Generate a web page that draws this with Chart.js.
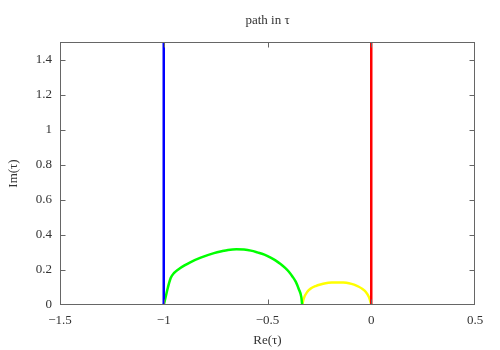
<!DOCTYPE html>
<html>
<head>
<meta charset="utf-8">
<script src="https://cdn.jsdelivr.net/npm/chart.js@4"></script>
<style>
  html, body { margin: 0; padding: 0; background: #fff; }
  #wrap { width: 500px; height: 350px; }
</style>
</head>
<body>
<div id="wrap"><canvas id="pathChart"></canvas></div>
<script>
// Data
const chartTitle = 'path in \u03c4';
const xTicks = [-1.5, -1, -0.5, 0, 0.5];
const yTicks = [0, 0.2, 0.4, 0.6, 0.8, 1, 1.2, 1.4];

const blueX = [-1, -1];
const blueY = [0, 1.5];
const redX = [0, 0];
const redY = [0, 1.5];

const greenX = [-1, -0.99, -0.98, -0.966, -0.95, -0.93, -0.9, -0.87, -0.822, -0.758, -0.72,
                -0.69, -0.65, -0.613, -0.58, -0.549, -0.515, -0.485, -0.46, -0.437, -0.415,
                -0.397, -0.38, -0.364, -0.349, -0.337, -0.333];
const greenY = [0, 0.05, 0.1, 0.155, 0.183, 0.203, 0.226, 0.245, 0.27, 0.296, 0.307,
                0.314, 0.318, 0.316, 0.31, 0.3, 0.287, 0.27, 0.253, 0.234, 0.212,
                0.19, 0.163, 0.133, 0.09, 0.045, 0];

const yellowX = [-0.333, -0.325, -0.308, -0.29, -0.268, -0.245, -0.22, -0.19, -0.164, -0.135,
                 -0.108, -0.083, -0.06, -0.042, -0.027, -0.011, 0];
const yellowY = [0, 0.038, 0.076, 0.095, 0.108, 0.117, 0.124, 0.128, 0.129, 0.128,
                 0.124, 0.116, 0.104, 0.091, 0.076, 0.045, 0.004];

function pts(xs, ys) {
    return xs.map((x, i) => ({ x: x, y: ys[i] }));
}

function fmt(v) {
    return String(v).replace('-', '\u2212');
}

const serif = '"Liberation Serif", "DejaVu Serif", serif';
const textColor = '#333';
const frameColor = '#666';

// frame, inward ticks on all four sides and the title over the plot box
const framePlugin = {
    id: 'frame',
    afterDatasetsDraw(chart) {
        const ctx = chart.ctx;
        const a = chart.chartArea;
        const xs = chart.scales.x;
        const ys = chart.scales.y;
        const L = Math.round(a.left) + 0.5, R = Math.round(a.right) - 0.5;
        const T = Math.round(a.top) + 0.5, B = Math.round(a.bottom) - 0.5;
        const len = 5;
        const clamp = (v, lo, hi) => Math.min(Math.max(v, lo), hi);
        ctx.save();
        ctx.strokeStyle = frameColor;
        ctx.lineWidth = 1;
        ctx.beginPath();
        xTicks.forEach(v => {
            const px = clamp(Math.round(xs.getPixelForValue(v)) + 0.5, L, R);
            ctx.moveTo(px, B); ctx.lineTo(px, B - len);
            ctx.moveTo(px, T); ctx.lineTo(px, T + len);
        });
        yTicks.forEach(v => {
            const py = clamp(Math.round(ys.getPixelForValue(v)) + 0.5, T, B);
            ctx.moveTo(L, py); ctx.lineTo(L + len, py);
            ctx.moveTo(R, py); ctx.lineTo(R - len, py);
        });
        ctx.stroke();
        ctx.strokeRect(L, T, R - L, B - T);

        ctx.fillStyle = textColor;
        ctx.font = '13px ' + serif;
        ctx.textAlign = 'center';
        ctx.textBaseline = 'alphabetic';
        ctx.fillText(chartTitle, (a.left + a.right) / 2, 24);
        ctx.restore();
    }
};

const line = (data, color) => ({
    data: data,
    showLine: true,
    borderColor: color,
    backgroundColor: color,
    borderWidth: 2.5,
    pointRadius: 0,
    cubicInterpolationMode: 'monotone',
    fill: false
});

new Chart(document.getElementById('pathChart'), {
    type: 'scatter',
    data: {
        datasets: [
            line(pts(blueX, blueY), '#0000ff'),
            line(pts(redX, redY), '#ff0000'),
            line(pts(greenX, greenY), '#00ff00'),
            line(pts(yellowX, yellowY), '#ffff00')
        ]
    },
    options: {
        responsive: true,
        maintainAspectRatio: false,
        animation: false,
        layout: { padding: { left: 0, right: 25, top: 42, bottom: 0 } },
        plugins: {
            legend: { display: false },
            tooltip: { enabled: false },
            title: { display: false }
        },
        scales: {
            x: {
                type: 'linear',
                min: -1.5,
                max: 0.5,
                afterBuildTicks: s => { s.ticks = xTicks.map(v => ({ value: v })); },
                afterFit: s => { s.height = 45; },
                grid: { display: false, drawTicks: false },
                border: { display: false },
                ticks: {
                    color: textColor,
                    padding: 8,
                    maxRotation: 0,
                    font: { family: serif, size: 13 },
                    callback: v => fmt(v)
                },
                title: {
                    display: true,
                    text: 'Re(\u03c4)',
                    color: textColor,
                    font: { family: serif, size: 13 },
                    padding: { top: 0, bottom: 2 }
                }
            },
            y: {
                type: 'linear',
                min: 0,
                max: 1.5,
                afterBuildTicks: s => { s.ticks = yTicks.map(v => ({ value: v })); },
                afterFit: s => { s.width = 60; },
                grid: { display: false, drawTicks: false },
                border: { display: false },
                ticks: {
                    color: textColor,
                    padding: 8,
                    font: { family: serif, size: 13 },
                    callback: v => fmt(v)
                },
                title: {
                    display: true,
                    text: 'Im(\u03c4)',
                    color: textColor,
                    font: { family: serif, size: 13 },
                    padding: { top: 6, bottom: 0 }
                }
            }
        }
    },
    plugins: [framePlugin]
});
</script>
</body>
</html>
